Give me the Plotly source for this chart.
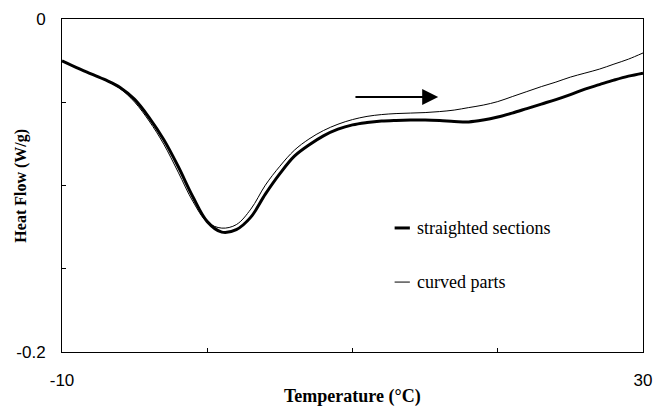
import plotly.graph_objects as go

# Temperature grid (°C) and heat flow (W/g) for the two specimen regions
temperature = list(range(-10, 31))

heat_flow_straight = [
    -0.0252, -0.0292, -0.0329, -0.0366, -0.0411, -0.0483, -0.0592, -0.0724,
    -0.0886, -0.1066, -0.1217, -0.1280, -0.1265, -0.1190, -0.1052, -0.0929,
    -0.0824, -0.0757, -0.0702, -0.0662, -0.0636, -0.0622, -0.0613, -0.0609,
    -0.0607, -0.0607, -0.0610, -0.0615, -0.0618, -0.0607, -0.0589, -0.0565,
    -0.0538, -0.0511, -0.0484, -0.0454, -0.0421, -0.0394, -0.0367, -0.0343,
    -0.0325,
]

heat_flow_curved = [
    -0.0252, -0.0292, -0.0329, -0.0368, -0.0418, -0.0499, -0.0613, -0.0751,
    -0.0920, -0.1094, -0.1220, -0.1256, -0.1235, -0.1142, -0.0998, -0.0884,
    -0.0788, -0.0721, -0.0670, -0.0632, -0.0604, -0.0585, -0.0574, -0.0568,
    -0.0565, -0.0562, -0.0556, -0.0547, -0.0532, -0.0517, -0.0496, -0.0466,
    -0.0436, -0.0406, -0.0379, -0.0349, -0.0325, -0.0301, -0.0271, -0.0241,
    -0.0204,
]

series_names = ["straighted sections", "curved parts"]

x_ticks = [-10, 0, 10, 20, 30]
x_tick_text = ["-10", "", "", "", "30"]
y_ticks = [-0.2, -0.15, -0.1, -0.05, 0]
y_tick_text = ["-0.2", "", "", "", "0"]

fig = go.Figure()
fig.add_trace(go.Scatter(
    x=temperature, y=heat_flow_straight, mode="lines", name=series_names[0],
    line=dict(color="black", width=3, shape="spline", smoothing=1.0),
))
fig.add_trace(go.Scatter(
    x=temperature, y=heat_flow_curved, mode="lines", name=series_names[1],
    line=dict(color="black", width=1, shape="spline", smoothing=1.0),
))

# Heating direction arrow
fig.add_annotation(
    x=15.9, y=-0.0469, ax=10.1, ay=-0.0469,
    xref="x", yref="y", axref="x", ayref="y",
    text="", showarrow=True, arrowhead=2, arrowsize=1.6, arrowwidth=2,
    arrowcolor="black",
)

# Inline legend: short line samples with serif labels
legend_y = [-0.1255, -0.158]
legend_w = [3, 1]
for name, ly, lw in zip(series_names, legend_y, legend_w):
    fig.add_shape(type="line", xref="x", yref="y",
                  x0=12.9, x1=13.95, y0=ly, y1=ly,
                  line=dict(color="black", width=lw))
    fig.add_annotation(x=14.3, y=ly, xref="x", yref="y", text=name,
                       showarrow=False, xanchor="left", yanchor="middle",
                       font=dict(family="Liberation Serif, Times New Roman, serif",
                                 size=18, color="black"))

axis_common = dict(
    showgrid=False, zeroline=False, showline=True, linecolor="black",
    linewidth=1, mirror=True, ticks="inside", ticklen=4, tickcolor="black",
    automargin=False,
    tickfont=dict(family="Liberation Sans, Arial, sans-serif", size=17,
                  color="black"),
)

fig.update_xaxes(
    range=[-10, 30], tickvals=x_ticks, ticktext=x_tick_text,
    ticklabelstandoff=13,
    **axis_common,
)
fig.update_yaxes(
    range=[-0.2, 0], tickvals=y_ticks, ticktext=y_tick_text,
    ticklabelstandoff=12,
    **axis_common,
)

# Axis titles placed in paper space
fig.add_annotation(
    x=0.5, y=-0.135, xref="paper", yref="paper", xanchor="center",
    yanchor="middle", showarrow=False, text="<b>Temperature (°C)</b>",
    font=dict(family="Liberation Serif, Times New Roman, serif", size=18,
              color="black"),
)
fig.add_annotation(
    x=-0.072, y=0.5, xref="paper", yref="paper", xanchor="center",
    yanchor="middle", showarrow=False, textangle=-90,
    text="<b>Heat Flow (W/g)</b>",
    font=dict(family="Liberation Serif, Times New Roman, serif", size=16,
              color="black"),
)

fig.update_layout(
    width=655, height=407,
    margin=dict(l=62, r=12, t=19, b=55),
    paper_bgcolor="white", plot_bgcolor="white",
    showlegend=False,
)

fig.write_html("out.html")
